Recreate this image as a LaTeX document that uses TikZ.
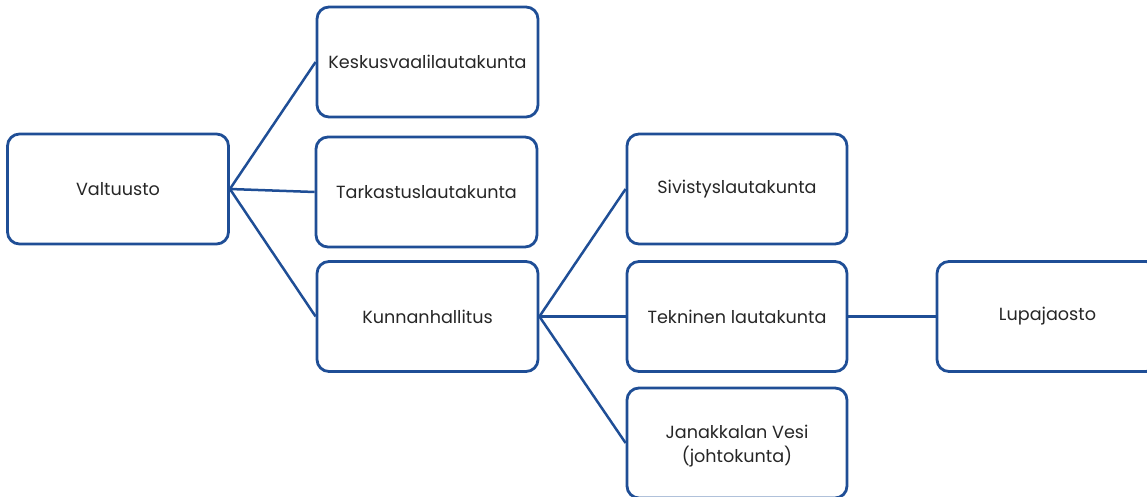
\documentclass[tikz,border=0pt]{standalone}
\usepackage{fontspec}
\setmainfont{Poppins}
\definecolor{edge}{HTML}{1F4E96}
\begin{document}
\begin{tikzpicture}[x=1pt,y=-1pt,
  box/.style={draw=edge,line width=2.8pt,rounded corners=12pt,minimum width=#1,minimum height=110pt,inner sep=0pt,align=center,font=\fontsize{17.6}{23}\selectfont,text=black!85},
  box/.default=221pt,
  link/.style={draw=edge,line width=2.5pt}]
\useasboundingbox (0,0) rectangle (1147,497);
\node[box] (val) at (118,189) {Valtuusto};
\node[box] (kes) at (427.5,62) {Keskusvaalilautakunta};
\node[box] (tar) at (426.5,192) {Tarkastuslautakunta};
\node[box] (kun) at (427.5,316.5) {Kunnanhallitus};
\node[box=220pt] (siv) at (737,189) {Sivistyslautakunta};
\node[box=220pt] (tek) at (737,316.5) {Tekninen lautakunta};
\node[box=220pt] (jan) at (737,443) {\raisebox{-3pt}[\height][\depth]{\begin{tabular}{@{}c@{}}Janakkalan Vesi\\(johtokunta)\end{tabular}}};
\node[box] (lup) at (1047.5,316.5) {Lupajaosto};
\draw[link] (val.east) -- (kes.west);
\draw[link] (val.east) -- (tar.west);
\draw[link] (val.east) -- (kun.west);
\draw[link] (kun.east) -- (siv.west);
\draw[link] (kun.east) -- (tek.west);
\draw[link] (kun.east) -- (jan.west);
\draw[link] (tek.east) -- (lup.west);
\end{tikzpicture}
\end{document}
